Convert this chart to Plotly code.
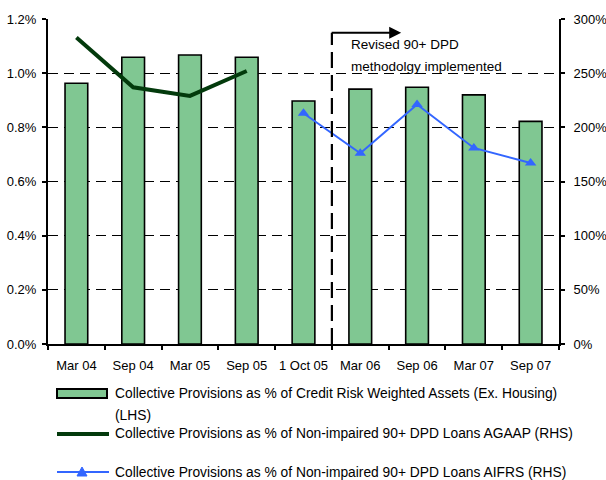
import plotly.graph_objects as go

# Reporting periods and series values
periods = ["Mar 04", "Sep 04", "Mar 05", "Sep 05", "1 Oct 05",
           "Mar 06", "Sep 06", "Mar 07", "Sep 07"]
cp_crwa = [0.963, 1.059, 1.067, 1.059, 0.897, 0.941, 0.948, 0.920, 0.822]   # % (LHS)
cp_agaap = [283, 237, 229, 252, None, None, None, None, None]            # % (RHS)
cp_aifrs = [None, None, None, None, 213, 176, 221, 181, 167]             # % (RHS)

lhs_ticks = [0.0, 0.2, 0.4, 0.6, 0.8, 1.0, 1.2]
lhs_labels = ["0.0%", "0.2%", "0.4%", "0.6%", "0.8%", "1.0%", "1.2%"]
rhs_ticks = [0, 50, 100, 150, 200, 250, 300]
rhs_labels = ["0%", "50%", "100%", "150%", "200%", "250%", "300%"]

name_bar = "Collective Provisions as % of Credit Risk Weighted Assets (Ex. Housing)"
name_bar2 = "(LHS)"
name_agaap = "Collective Provisions as % of Non-impaired 90+ DPD Loans AGAAP (RHS)"
name_aifrs = "Collective Provisions as % of Non-impaired 90+ DPD Loans AIFRS (RHS)"
note_1 = "Revised 90+ DPD"
note_2 = "methodolgy implemented"

BAR_GREEN = "#80C792"
DARK_GREEN = "#033A0C"
BLUE = "#3366FF"
FONT = "Liberation Sans, Arial, sans-serif"

W, H = 606, 480
ML, MR, MT, MB = 48, 47, 19, 136
PW, PH = W - ML - MR, H - MT - MB


def px(xp):
    return (xp - ML) / PW


def py(yp):
    return (H - MB - yp) / PH


fig = go.Figure()

fig.add_trace(go.Bar(
    x=periods, y=cp_crwa, name=name_bar, width=0.4,
    marker=dict(color=BAR_GREEN, line=dict(color="black", width=1.6)),
    showlegend=False,
))
fig.add_trace(go.Scatter(
    x=periods, y=cp_agaap, name=name_agaap, yaxis="y2", mode="lines",
    line=dict(color=DARK_GREEN, width=4), showlegend=False,
))
fig.add_trace(go.Scatter(
    x=periods, y=cp_aifrs, name=name_aifrs, yaxis="y2", mode="lines+markers",
    line=dict(color=BLUE, width=2),
    marker=dict(symbol="triangle-up", size=10, color=BLUE),
    showlegend=False,
))

tick_font = dict(family=FONT, size=13, color="black")

fig.update_layout(
    width=W, height=H,
    margin=dict(l=ML, r=MR, t=MT, b=MB, pad=0, autoexpand=False),
    paper_bgcolor="white", plot_bgcolor="white",
    font=tick_font,
    showlegend=False,
    bargap=0.6,
    xaxis=dict(
        type="category", range=[-0.5, 8.5], automargin=False, tickangle=0,
        tickson="boundaries", ticks="outside", ticklen=4, tickwidth=1.5,
        tickcolor="black", showline=True, linecolor="black", linewidth=2,
        showgrid=False, tickfont=tick_font, ticklabelstandoff=8,
    ),
    yaxis=dict(
        range=[0, 1.2], tickvals=lhs_ticks, ticktext=lhs_labels, automargin=False,
        ticks="outside", ticklen=4, tickwidth=1.5, tickcolor="black",
        showline=True, linecolor="black", linewidth=2,
        showgrid=True, gridcolor="black", gridwidth=1, griddash="10px,6px",
        zeroline=False, tickfont=tick_font, ticklabelstandoff=3,
    ),
    yaxis2=dict(
        range=[0, 300], tickvals=rhs_ticks, ticktext=rhs_labels, automargin=False,
        overlaying="y", side="right", anchor="x",
        ticks="outside", ticklen=4, tickwidth=1.5, tickcolor="black",
        showline=True, linecolor="black", linewidth=2,
        showgrid=False, zeroline=False, tickfont=tick_font,
        ticklabelstandoff=6,
    ),
    # inner halves of the crossing tick marks
    xaxis2=dict(
        overlaying="x", anchor="y", side="bottom", range=[-0.5, 8.5],
        tickvals=[i - 0.5 for i in range(len(periods) + 1)], automargin=False,
        ticks="inside", ticklen=4, tickwidth=1.5, tickcolor="black",
        showticklabels=False, showgrid=False, showline=False, zeroline=False,
    ),
    yaxis3=dict(
        overlaying="y", anchor="x", side="left", range=[0, 1.2], automargin=False,
        tickvals=lhs_ticks, ticks="inside", ticklen=4, tickwidth=1.5,
        tickcolor="black", showticklabels=False, showgrid=False,
        showline=False, zeroline=False,
    ),
    yaxis4=dict(
        overlaying="y", anchor="x", side="right", range=[0, 300], automargin=False,
        tickvals=rhs_ticks, ticks="inside", ticklen=4, tickwidth=1.5,
        tickcolor="black", showticklabels=False, showgrid=False,
        showline=False, zeroline=False,
    ),
)

# methodology change marker: dashed divider with arrow and note
ARROW_Y = 1.149
note_font = dict(family=FONT, size=13.5, color="black")
fig.add_shape(type="line", xref="x", yref="y", x0=4.5, x1=4.5, y0=0, y1=ARROW_Y,
              line=dict(color="black", width=2.2, dash="16px,7px"), layer="above")
fig.add_annotation(xref="x", yref="y", axref="x", ayref="y",
                   x=5.72, y=ARROW_Y, ax=4.47, ay=ARROW_Y, text="",
                   showarrow=True, arrowhead=2, arrowsize=1.2, arrowwidth=2,
                   arrowcolor="black", standoff=0, startstandoff=0)
fig.add_annotation(xref="x", yref="y", x=4.8, y=1.105, text=note_1,
                   showarrow=False, xanchor="left", yanchor="middle",
                   font=note_font)
fig.add_annotation(xref="x", yref="y", x=4.8, y=1.025, text=note_2,
                   showarrow=False, xanchor="left", yanchor="middle",
                   font=note_font)

# legend drawn below the axis
fig.add_shape(type="rect", xref="paper", yref="paper",
              x0=px(57), x1=px(107), y0=py(398), y1=py(389),
              fillcolor=BAR_GREEN, line=dict(color="black", width=2))
fig.add_shape(type="line", xref="paper", yref="paper",
              x0=px(57), x1=px(109), y0=py(434), y1=py(434),
              line=dict(color=DARK_GREEN, width=4))
fig.add_shape(type="line", xref="paper", yref="paper",
              x0=px(57), x1=px(109), y0=py(472), y1=py(472),
              line=dict(color=BLUE, width=2))
fig.add_shape(type="path", xref="paper", yref="paper",
              path=f"M {px(77)},{py(476)} L {px(87)},{py(476)} L {px(82)},{py(467)} Z",
              fillcolor=BLUE, line=dict(color=BLUE, width=1))

legend_font = dict(family=FONT, size=13.8, color="black")
for text, yp in [(name_bar, 394), (name_bar2, 415), (name_agaap, 434), (name_aifrs, 472)]:
    fig.add_annotation(xref="paper", yref="paper", x=px(113), y=py(yp), text=text,
                       showarrow=False, xanchor="left", yanchor="middle",
                       font=legend_font)

fig.write_html("out.html")
